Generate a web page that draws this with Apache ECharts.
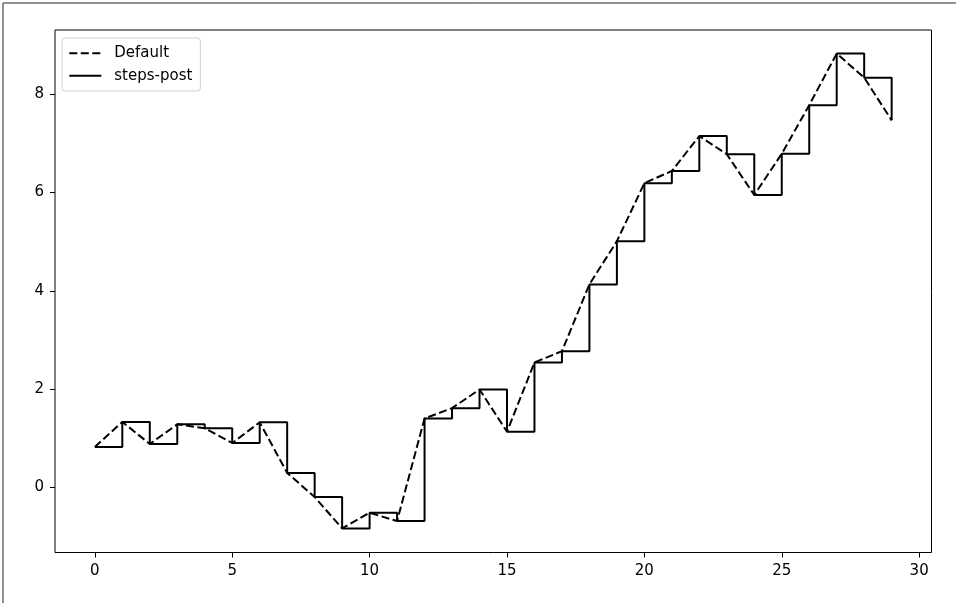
<!DOCTYPE html>
<html>
<head>
<meta charset="utf-8">
<script src="https://cdn.jsdelivr.net/npm/echarts@6/dist/echarts.min.js"></script>
<style>
html,body{margin:0;padding:0;background:#fff;}
#chart{width:956px;height:603px;}
</style>
</head>
<body>
<div id="chart"></div>
<script>
const xValues = [0,1,2,3,4,5,6,7,8,9,10,11,12,13,14,15,16,17,18,19,20,21,22,23,24,25,26,27,28,29];
const yValues = [0.82,1.33,0.88,1.28,1.20,0.90,1.32,0.29,-0.20,-0.84,-0.52,-0.69,1.40,1.61,1.99,1.13,2.54,2.77,4.13,5.01,6.19,6.44,7.15,6.78,5.95,6.79,7.78,8.83,8.34,7.47];
const seriesNames = ['Default', 'steps-post'];
const xTicks = [0,5,10,15,20,25,30];
const yTicks = [0,2,4,6,8];

const points = xValues.map((x, i) => [x, yValues[i]]);
const font = 'DejaVu Sans';

const chart = echarts.init(document.getElementById('chart'), null, {renderer: 'canvas'});
chart.setOption({
  animation: false,
  backgroundColor: '#fff',
  textStyle: {fontFamily: font},
  grid: {
    left: 55, top: 30, right: 24.5, bottom: 50.5,
    show: true, borderColor: '#000', borderWidth: 1, backgroundColor: 'transparent'
  },
  graphic: [
    {type: 'line', shape: {x1: 3, y1: 3, x2: 956, y2: 3}, style: {stroke: '#222', lineWidth: 1}},
    {type: 'line', shape: {x1: 3, y1: 3, x2: 3, y2: 603}, style: {stroke: '#222', lineWidth: 1}}
  ],
  legend: {
    data: seriesNames,
    orient: 'vertical',
    left: 62, top: 38,
    padding: [7.7, 8, 7.7, 6.3],
    itemWidth: 32, itemHeight: 14, itemGap: 7.6,
    backgroundColor: '#fff',
    borderColor: '#d0d0d0', borderWidth: 1, borderRadius: 3,
    itemStyle: {opacity: 0},
    textStyle: {fontFamily: font, fontSize: 15, color: '#000', padding: [0, 0, 0, 8]}
  },
  xAxis: {
    type: 'value', min: -1.45, max: 30.45,
    axisLine: {show: false, onZero: false},
    splitLine: {show: false},
    axisTick: {show: true, length: 5, lineStyle: {color: '#000'}, customValues: xTicks},
    axisLabel: {fontFamily: font, fontSize: 15, color: '#000', margin: 11, customValues: xTicks}
  },
  yAxis: {
    type: 'value', min: -1.33, max: 9.31,
    axisLine: {show: false, onZero: false},
    splitLine: {show: false},
    axisTick: {show: true, length: 5, lineStyle: {color: '#000'}, customValues: yTicks},
    axisLabel: {fontFamily: font, fontSize: 15, color: '#000', margin: 11, customValues: yTicks}
  },
  series: [
    {
      name: seriesNames[0], type: 'line', data: points,
      symbol: 'none', showSymbol: false,
      lineStyle: {color: '#000', width: 2, type: [8, 3.5]},
      itemStyle: {color: '#000'}
    },
    {
      name: seriesNames[1], type: 'line', data: points, step: 'end',
      symbol: 'none', showSymbol: false,
      lineStyle: {color: '#000', width: 2, type: 'solid'},
      itemStyle: {color: '#000'}
    }
  ]
});
</script>
</body>
</html>
